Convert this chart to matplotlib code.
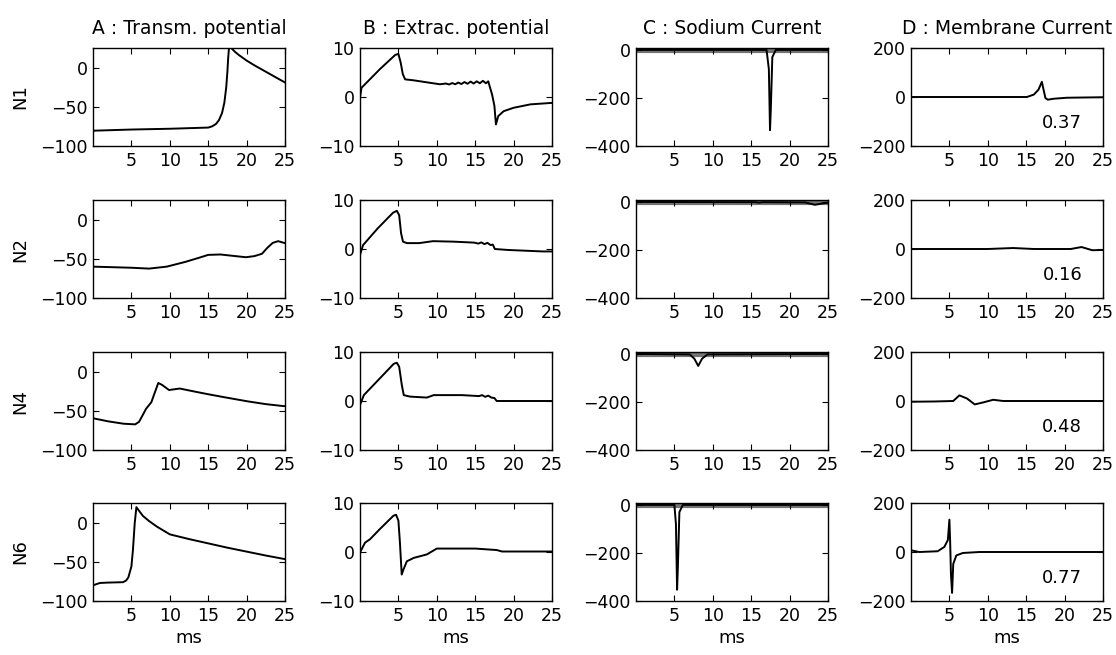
import matplotlib
matplotlib.use("Agg")
import matplotlib.pyplot as plt

plt.rcParams['font.family'] = ['DejaVu Sans']
plt.rcParams['font.size'] = 12

# ---- data (time in ms) ----
titles = ["A : Transm. potential", "B : Extrac. potential", "C : Sodium Current", "D : Membrane Current"]
rows = ["N1", "N2", "N4", "N6"]
ratios = ["0.37", "0.16", "0.48", "0.77"]

# A : transmembrane potential
tA1 = [0, 5, 10, 15, 15.5, 16.0, 16.4, 16.8, 17.1, 17.35, 17.5, 17.6, 17.75, 18.0, 18.5, 19, 19.5, 20, 21, 22, 23, 24, 25]
vA1 = [-80.5, -79, -78, -76.5, -75, -72, -67, -58, -45, -25, -5, 12, 30, 25, 20, 16, 12.5, 9, 3, -2.5, -8, -13.5, -19]
tA2 = [0, 5, 7.3, 9.6, 12, 13.8, 15, 16.6, 18, 19.9, 21, 22, 22.7, 23.4, 24.1, 24.8, 25]
vA2 = [-60, -61.4, -62.5, -60, -54, -48.7, -45, -44.5, -46, -48, -46.6, -43.6, -36, -29.7, -27.5, -29.5, -30]
tA4 = [0, 2, 4, 5.5, 6.0, 6.5, 6.9, 7.6, 8.0, 8.5, 9.0, 9.9, 11.3, 13, 14.9, 17, 20.1, 22.5, 24.8, 25]
vA4 = [-59.5, -63.5, -66.5, -67.3, -64, -55, -47.6, -39, -28, -14.5, -17, -23.5, -21.6, -25, -28.7, -32.5, -37.9, -41.5, -44, -44]
tA6 = [0, 0.9, 2, 3.9, 4.3, 4.6, 5.0, 5.2, 5.43, 5.65, 6.0, 6.5, 7.3, 8.3, 10, 12.5, 15, 17.5, 20, 22.5, 25]
vA6 = [-80, -77, -76.5, -76, -74, -70, -56, -35, -1, 19.7, 15, 8.5, 2, -5, -15, -21, -26.5, -32, -37, -42, -46.6]

# B : extracellular potential
tB1 = [0, 0.2, 0.65, 2.6, 4.6, 5.0, 5.3, 5.57, 5.87, 7.0, 9.1, 10.4, 11.2, 11.6, 12.0, 12.4, 12.8, 13.2,
       13.6, 14.0, 14.4, 14.8, 15.2, 15.6, 16.0, 16.4, 16.7, 16.9, 17.2, 17.5, 17.7, 18.0, 18.7, 20, 22.2, 25]
vB1 = [-0.1, 1.9, 2.6, 5.7, 8.6, 8.8, 7.0, 4.7, 3.6, 3.4, 2.9, 2.6, 2.75, 2.55, 2.85, 2.6, 2.95, 2.65,
       3.05, 2.7, 3.15, 2.75, 3.2, 2.8, 3.3, 2.8, 3.2, 2.1, 0.5, -1.8, -5.6, -3.9, -2.9, -2.2, -1.5, -1.2]
tB2 = [0, 0.4, 2.3, 4.3, 4.8, 5.1, 5.35, 5.6, 6.1, 7.7, 9.5, 12.2, 14.9, 15.4, 15.8, 16.2, 16.6, 17.0, 17.3, 17.55, 19.3, 23.8, 25]
vB2 = [-1.2, 0.8, 4.2, 7.4, 7.8, 6.9, 3.2, 1.5, 1.2, 1.2, 1.6, 1.5, 1.3, 1.1, 1.35, 1.0, 1.25, 0.8, 0.9, 0.0, -0.2, -0.5, -0.5]
tB4 = [0, 0.5, 4.4, 4.8, 5.1, 5.45, 5.7, 6.5, 8.7, 9.6, 13.3, 15.5, 15.9, 16.3, 16.7, 17.1, 17.5, 17.8, 25]
vB4 = [-0.8, 1.2, 7.6, 7.8, 7.0, 3.2, 1.2, 0.9, 0.7, 1.2, 1.2, 1.0, 1.2, 0.85, 1.1, 0.7, 0.6, 0.0, 0.0]
tB6 = [0, 0.1, 0.65, 1.3, 2.6, 4.35, 4.7, 5.0, 5.2, 5.43, 5.65, 6.1, 7.0, 8.7, 10, 15, 17.8, 18.5, 20, 25]
vB6 = [0.0, 0.2, 1.9, 2.6, 4.7, 7.4, 7.6, 6.4, 1.9, -4.6, -3.6, -1.9, -1.2, -0.5, 0.7, 0.7, 0.4, 0.1, 0.1, 0.1]

# C : sodium current
tC1 = [0, 17.0, 17.3, 17.45, 17.55, 17.75, 18.2, 25]
vC1 = [0, 0, -80, -334, -250, -30, 0, 0]
tC2 = [0, 15.5, 16.0, 16.5, 22.0, 23.3, 24.3, 25]
vC2 = [0, -1, -3, -1, -2, -12, -6, -3]
tC4 = [0, 7.0, 7.6, 8.1, 8.6, 9.3, 25]
vC4 = [0, -2, -20, -50, -20, -2, 0]
tC6 = [0, 5.0, 5.2, 5.35, 5.45, 5.65, 6.1, 25]
vC6 = [0, 0, -80, -353, -260, -30, 0, 0]
# grey baseline band of the sodium panels
band_t = [0, 25]
band_v = [-3, -3]

# D : membrane current
tD1 = [0, 15.1, 16.0, 16.6, 17.04, 17.26, 17.5, 17.8, 18.6, 20.3, 25]
vD1 = [0, 0, 10, 30, 62, 30, -4, -11, -7, -3, -1]
tD2 = [0, 10, 13.3, 16, 20.8, 22.2, 23.6, 25]
vD2 = [0, 0, 4, 0, 0, 8, -5, -4]
tD4 = [0, 3, 5.5, 6.3, 7.3, 8.3, 9.5, 10.7, 12, 25]
vD4 = [-3, -2, 0, 23, 10, -14, -5, 5, 0, 0]
tD6 = [0, 1.07, 3.47, 4.35, 4.8, 5.0, 5.1, 5.2, 5.35, 5.5, 5.9, 6.75, 8.9, 25]
vD6 = [7, 0, 3, 21, 49, 132, 40, -90, -167, -49, -14, -4, 0, 0]

traces = [
    [(tA1, vA1), (tB1, vB1), (tC1, vC1), (tD1, vD1)],
    [(tA2, vA2), (tB2, vB2), (tC2, vC2), (tD2, vD2)],
    [(tA4, vA4), (tB4, vB4), (tC4, vC4), (tD4, vD4)],
    [(tA6, vA6), (tB6, vB6), (tC6, vC6), (tD6, vD6)],
]
ylims = [(-100, 25), (-10, 10), (-400, 8), (-200, 200)]
yticks = [[-100, -50, 0], [-10, 0, 10], [-400, -200, 0], [-200, 0, 200]]

W, H = 1116, 655
fig = plt.figure(figsize=(W / 100, H / 100), dpi=100)

col_left = [93, 360, 636, 911]
ax_w = 192
row_top = [48, 200, 352, 503]
ax_h = 98

for r in range(4):
    for c in range(4):
        ax = fig.add_axes([col_left[c] / W, 1 - (row_top[r] + ax_h) / H, ax_w / W, ax_h / H])
        t, v = traces[r][c]
        if c == 2:
            ax.plot(band_t, band_v, color='0.45', lw=3, zorder=1)
        ax.plot(t, v, color='black', lw=1.4, zorder=2)
        ax.set_xlim(0, 25)
        ax.set_ylim(*ylims[c])
        ax.set_xticks([5, 10, 15, 20, 25])
        ax.set_yticks(yticks[c])
        ax.tick_params(direction='in', top=True, right=True, length=4, width=0.8,
                       labelsize=12.5, pad=4)
        for s in ax.spines.values():
            s.set_linewidth(1.0)
        if r == 0:
            ax.set_title(titles[c], fontsize=13.5, pad=10)
        if c == 0:
            ax.set_ylabel(rows[r], fontsize=13)
            ax.yaxis.set_label_coords(-0.33, 0.5)
        if r == 3:
            ax.set_xlabel("ms", fontsize=13, labelpad=3)
        if c == 3:
            ax.text(19.7, -105, ratios[r], ha='center', va='center', fontsize=13)

fig.savefig("out.png", dpi=100)
